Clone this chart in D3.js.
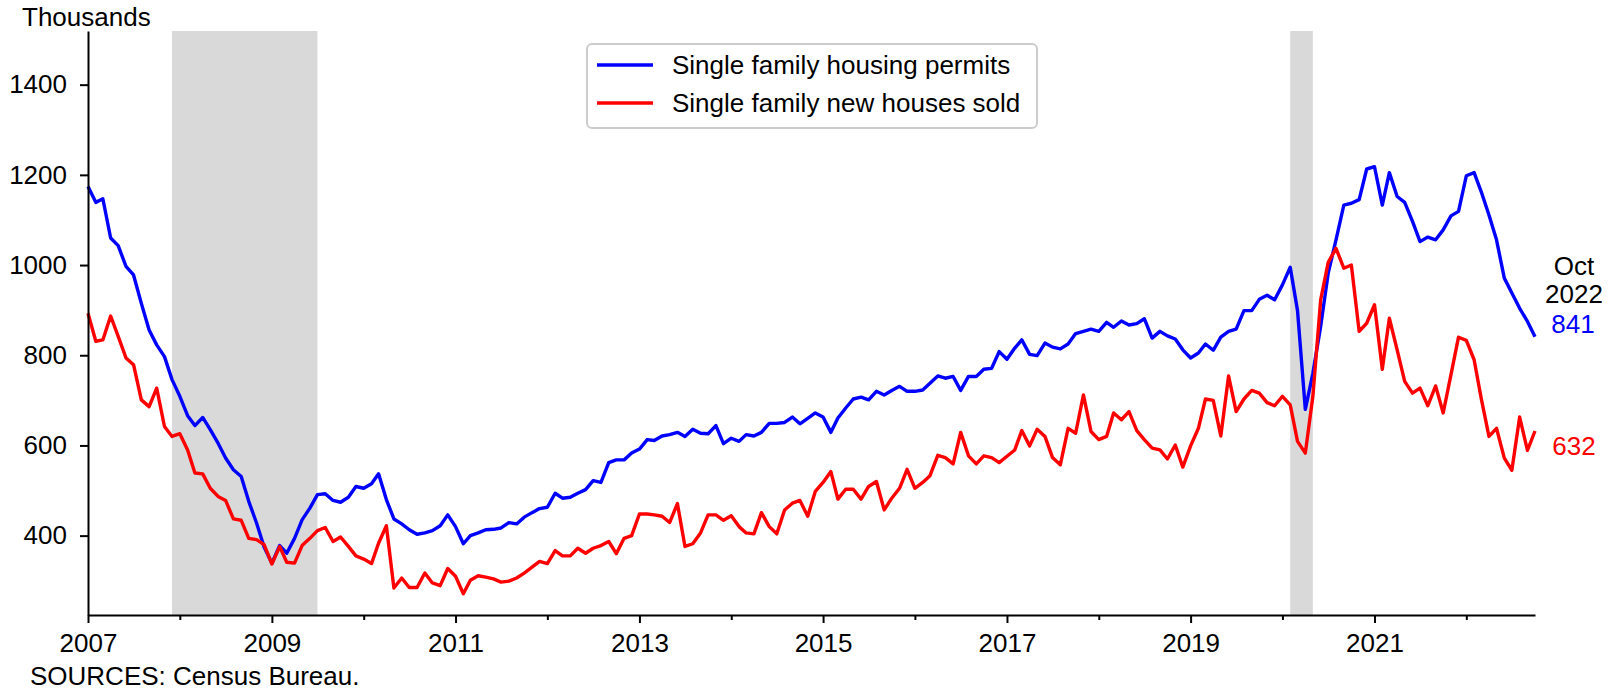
<!DOCTYPE html>
<html>
<head>
<meta charset="utf-8">
<script src="https://cdn.jsdelivr.net/npm/d3@7"></script>
<style>
  body { margin: 0; background: #fff; }
  svg { display: block; font-family: "Liberation Sans", Arial, sans-serif; }
</style>
</head>
<body>
<svg id="chart"></svg>
<script>
// Monthly series, Jan 2007 - Oct 2022, thousands (SAAR)
const firstMonth = "2007-01"

const permits = [
  1174, 1139, 1147, 1060, 1043, 997, 978, 915, 856, 823, 797, 746,
  709, 666, 644, 662, 635, 605, 572, 546, 531, 476, 428, 375,
  339, 378, 361, 394, 435, 461, 491, 493, 478, 474, 485, 509,
  505, 515, 537, 480, 437, 426, 413, 403, 406, 411, 422, 446,
  420, 382, 400, 406, 413, 414, 417, 429, 426, 441, 451, 460,
  463, 494, 483, 485, 494, 502, 522, 518, 562, 568, 568, 583,
  592, 613, 611, 621, 624, 629, 620, 636, 627, 626, 644, 604,
  616, 609, 624, 621, 629, 649, 649, 651, 663, 648, 660, 672,
  663, 629, 661, 683, 703, 707, 701, 720, 712, 722, 731, 720,
  720, 723, 738, 754, 749, 753, 722, 753, 753, 769, 771, 808,
  791, 816, 834, 802, 799, 827, 818, 814, 825, 848, 853, 858,
  853, 873, 862, 876, 867, 870, 881, 838, 853, 843, 836, 812,
  794, 805, 825, 811, 840, 853, 858, 899, 899, 924, 933, 923,
  956, 995, 899, 680, 760, 864, 982, 1056, 1133, 1137, 1145, 1213,
  1218, 1133, 1205, 1152, 1139, 1097, 1052, 1062, 1056, 1078, 1109, 1119,
  1198, 1205, 1163, 1111, 1056, 971, 938, 904, 875, 841
]

const housesSold = [
  893, 831, 834, 887, 842, 794, 779, 701, 686, 727, 642, 620,
  626, 590, 539, 537, 505, 487, 478, 437, 434, 394, 391, 380,
  337, 376, 341, 339, 378, 394, 411, 418, 387, 397, 376, 355,
  348, 338, 383, 422, 284, 306, 285, 285, 317, 295, 289, 327,
  310, 271, 301, 311, 308, 304, 297, 299, 306, 317, 330, 343,
  338, 367, 355, 355, 372, 361, 372, 378, 387, 360, 394, 400,
  448, 448, 446, 443, 429, 471, 376, 382, 406, 446, 446, 434,
  444, 420, 406, 404, 451, 420, 404, 457, 472, 478, 443, 498,
  518, 542, 481, 503, 503, 481, 509, 520, 457, 483, 505, 547,
  505, 518, 533, 578, 573, 559, 629, 577, 559, 577, 573, 562,
  576, 590, 633, 599, 636, 620, 573, 557, 638, 627, 712, 631,
  613, 620, 672, 657, 675, 633, 613, 594, 590, 570, 601, 552,
  599, 638, 703, 700, 621, 754, 675, 703, 722, 716, 695, 688,
  709, 690, 609, 583, 709, 923, 1006, 1037, 993, 1000, 853, 871,
  912, 769, 882, 812, 742, 716, 727, 688, 732, 672, 757, 840,
  833, 790, 705, 620, 638, 572, 545, 663, 589, 632
]

const seriesNames = ["Single family housing permits", "Single family new houses sold"]
const seriesColors = ["#0000ff", "#ff0000"]
const recessionStarts = ["2007-12-01", "2020-02-01"]
const recessionEnds = ["2009-07-01", "2020-05-01"]
const yTickValues = [400, 600, 800, 1000, 1200, 1400]
const lastLabel = ["Oct", "2022"]

const width = 1615
const height = 690
const margin = { top: 31, right: 80, bottom: 75, left: 88 }
const fontSize = 26

const svg = d3.select("#chart")
  .attr("width", width)
  .attr("height", height)

const parseMonth = d3.timeParse("%Y-%m")
const parseDay = d3.timeParse("%Y-%m-%d")
const start = parseMonth(firstMonth)
const dates = permits.map((_, i) => d3.timeMonth.offset(start, i))

const x = d3.scaleTime()
  .domain([dates[0], dates[dates.length - 1]])
  .range([margin.left, width - margin.right])

const y = d3.scaleLinear()
  .domain([224, 1519])
  .range([height - margin.bottom, margin.top])

// Recession shading
svg.append("g")
  .selectAll("rect")
  .data(recessionStarts.map((s, i) => [parseDay(s), parseDay(recessionEnds[i])]))
  .join("rect")
  .attr("x", d => x(d[0]))
  .attr("width", d => x(d[1]) - x(d[0]))
  .attr("y", y.range()[1])
  .attr("height", y.range()[0] - y.range()[1])
  .attr("fill", "#d9d9d9")

// Lines
const line = d3.line()
  .x((d, i) => x(dates[i]))
  .y(d => y(d))

svg.append("g")
  .selectAll("path")
  .data([permits, housesSold])
  .join("path")
  .attr("d", line)
  .attr("fill", "none")
  .attr("stroke", (d, i) => seriesColors[i])
  .attr("stroke-width", 3.4)
  .attr("stroke-linejoin", "round")

// Y axis
svg.append("g")
  .attr("transform", `translate(${margin.left}, 0)`)
  .call(d3.axisLeft(y)
    .tickValues(yTickValues)
    .tickFormat(d3.format("d"))
    .tickSize(8)
    .tickPadding(13)
    .tickSizeOuter(0))
  .call(g => g.selectAll("path, line")
    .attr("stroke", "#000")
    .attr("stroke-width", 2))
  .call(g => g.selectAll("text")
    .attr("font-size", fontSize)
    .attr("font-family", null)
    .attr("fill", "#000"))

// X axis, labels on odd years only
svg.append("g")
  .attr("transform", `translate(0, ${y.range()[0]})`)
  .call(d3.axisBottom(x)
    .ticks(d3.timeYear.every(1))
    .tickFormat(d => d.getFullYear() % 2 === 1 ? d3.timeFormat("%Y")(d) : "")
    .tickSize(8)
    .tickPadding(11)
    .tickSizeOuter(0))
  .call(g => g.selectAll("path, line")
    .attr("stroke", "#000")
    .attr("stroke-width", 2))
  .call(g => g.selectAll(".tick line")
    .attr("y2", d => d.getFullYear() % 2 === 1 ? 8 : 5))
  .call(g => g.selectAll("text")
    .attr("font-size", fontSize)
    .attr("font-family", null)
    .attr("fill", "#000"))

// Unit label
svg.append("text")
  .attr("x", 22)
  .attr("y", 26)
  .attr("font-size", fontSize)
  .text("Thousands")

// Source
svg.append("text")
  .attr("x", 30)
  .attr("y", 685)
  .attr("font-size", fontSize)
  .text("SOURCES: Census Bureau.")

// Legend
const legend = svg.append("g")
  .attr("transform", "translate(587, 44)")

legend.append("rect")
  .attr("width", 450)
  .attr("height", 84)
  .attr("rx", 5)
  .attr("fill", "#fff")
  .attr("stroke", "#cccccc")
  .attr("stroke-width", 2)

const rows = legend.selectAll("g.row")
  .data(seriesNames)
  .join("g")
  .attr("class", "row")
  .attr("transform", (d, i) => `translate(0, ${21 + i * 38})`)

rows.append("line")
  .attr("x1", 10)
  .attr("x2", 66)
  .attr("stroke", (d, i) => seriesColors[i])
  .attr("stroke-width", 3.4)

rows.append("text")
  .attr("x", 85)
  .attr("y", 9)
  .attr("font-size", fontSize)
  .text(d => d)

// End-of-series annotation
const last = dates.length - 1
const labelX = x(dates[last]) + 38

svg.append("g")
  .selectAll("text")
  .data(lastLabel)
  .join("text")
  .attr("x", labelX + 1)
  .attr("y", (d, i) => y(permits[last]) - 62 + i * 28)
  .attr("text-anchor", "middle")
  .attr("font-size", fontSize)
  .text(d => d)

svg.append("text")
  .attr("x", labelX)
  .attr("y", y(permits[last]) - 4)
  .attr("text-anchor", "middle")
  .attr("font-size", fontSize)
  .attr("fill", seriesColors[0])
  .text(permits[last])

svg.append("text")
  .attr("x", labelX + 1)
  .attr("y", y(housesSold[last]) + 24)
  .attr("text-anchor", "middle")
  .attr("font-size", fontSize)
  .attr("fill", seriesColors[1])
  .text(housesSold[last])
</script>
</body>
</html>
